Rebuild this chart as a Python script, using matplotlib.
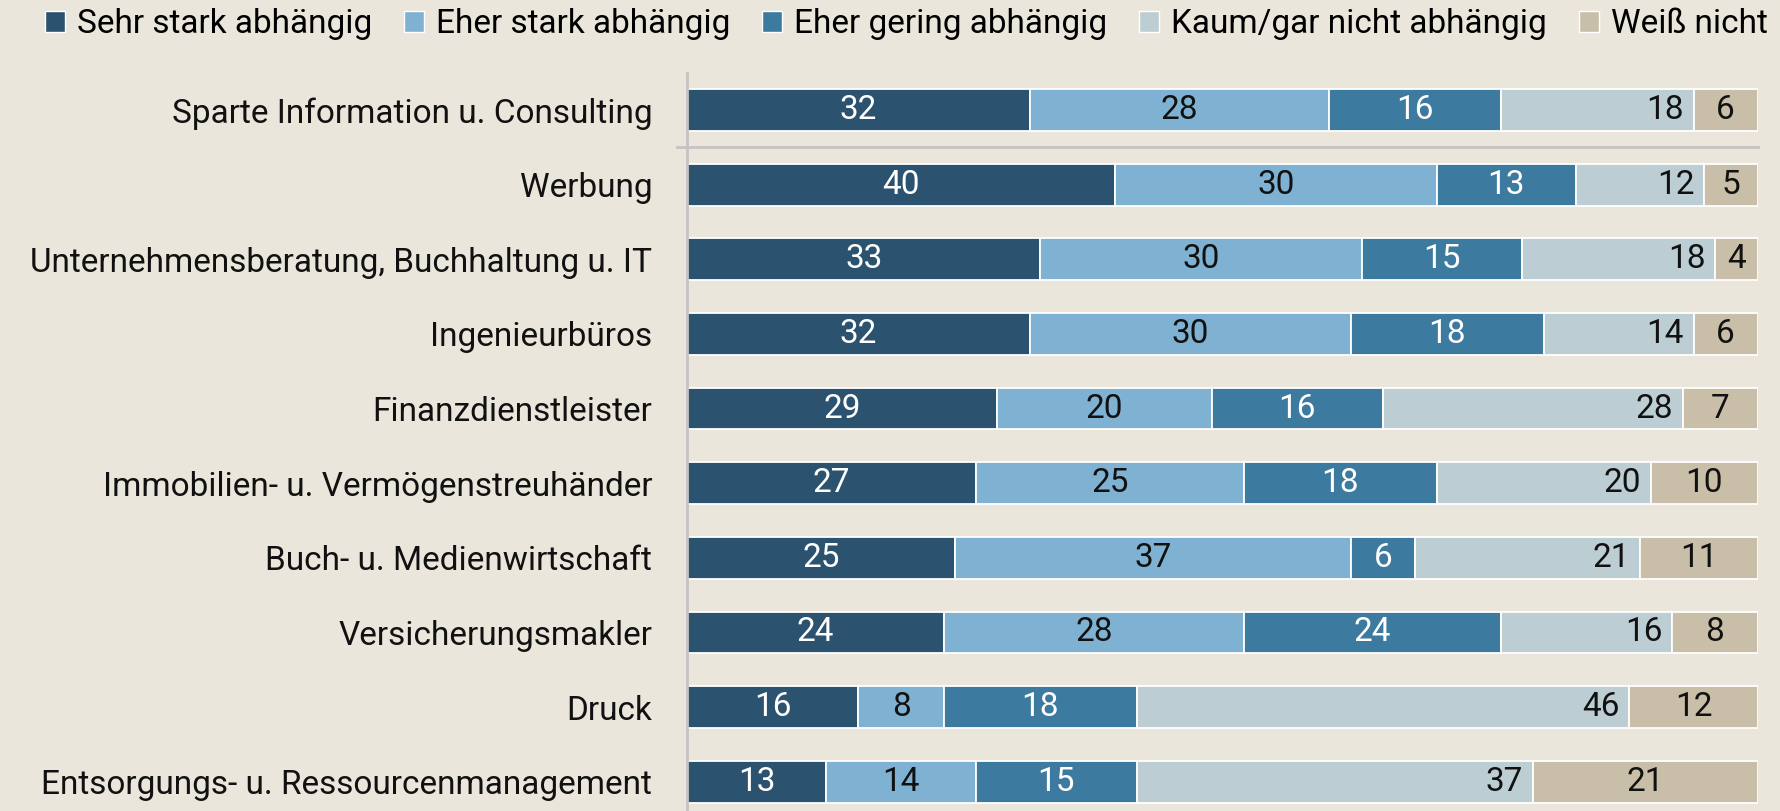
import matplotlib
matplotlib.use("Agg")
import matplotlib.pyplot as plt
from matplotlib.patches import Patch
import numpy as np

plt.rcParams['font.family'] = ['Roboto', 'DejaVu Sans']

categories = [
    "Sparte Information u. Consulting",
    "Werbung",
    "Unternehmensberatung, Buchhaltung u. IT",
    "Ingenieurbüros",
    "Finanzdienstleister",
    "Immobilien- u. Vermögenstreuhänder",
    "Buch- u. Medienwirtschaft",
    "Versicherungsmakler",
    "Druck",
    "Entsorgungs- u. Ressourcenmanagement",
]
series_names = ["Sehr stark abhängig", "Eher stark abhängig", "Eher gering abhängig",
                "Kaum/gar nicht abhängig", "Weiß nicht"]
sehr_stark = [32, 40, 33, 32, 29, 27, 25, 24, 16, 13]
eher_stark = [28, 30, 30, 30, 20, 25, 37, 28, 8, 14]
eher_gering = [16, 13, 15, 18, 16, 18, 6, 24, 18, 15]
kaum = [18, 12, 18, 14, 28, 20, 21, 16, 46, 37]
weiss_nicht = [6, 5, 4, 6, 7, 10, 11, 8, 12, 21]

series = [sehr_stark, eher_stark, eher_gering, kaum, weiss_nicht]
colors = ["#2B526F", "#7FB1D3", "#3D7A9F", "#BCCED3", "#C9BFA9"]
text_colors = ["white", "#111111", "white", "#111111", "#111111"]
bg = "#EAE6DC"

fig = plt.figure(figsize=(17.81, 8.11), dpi=100)
fig.patch.set_facecolor(bg)
ax = fig.add_axes([0.3857, -0.0099, 0.6013, 0.9203])
ax.set_facecolor(bg)

y = np.arange(len(categories))
left = np.zeros(len(categories))
fs = 24
for k, (vals, col) in enumerate(zip(series, colors)):
    vals = np.array(vals)
    ax.barh(y, vals, left=left, height=0.56, color=col, edgecolor="white", linewidth=1.3)
    for i, v in enumerate(vals):
        if k == 3:
            ax.text(left[i] + v - 0.9, y[i], str(v), ha="right", va="center",
                    color=text_colors[k], fontsize=fs)
        else:
            ax.text(left[i] + v / 2, y[i], str(v), ha="center", va="center",
                    color=text_colors[k], fontsize=fs)
    left += vals

ax.set_xlim(0, 100)
ax.set_ylim(len(categories) - 0.5, -0.5)
ax.set_yticks(y)
ax.set_yticklabels(categories, fontsize=fs, color="#111111")
ax.tick_params(axis="y", length=0, pad=25)
ax.set_xticks([])
for s in ["top", "right", "bottom"]:
    ax.spines[s].set_visible(False)
ax.spines["left"].set_color("#C4C4C4")
ax.spines["left"].set_linewidth(2)
ax.axhline(0.5, xmin=-0.009, xmax=1, color="#C4C4C4", linewidth=2, clip_on=False)

handles = [Patch(facecolor=c, edgecolor="white", linewidth=1) for c in colors]
fig.legend(handles, series_names, loc="upper left", bbox_to_anchor=(0.018, 1.006),
           ncol=5, frameon=False, fontsize=fs, handlelength=0.6, handleheight=0.6,
           handletextpad=0.36, columnspacing=0.95, borderaxespad=0)

fig.savefig("out.png", dpi=100, facecolor=bg)
